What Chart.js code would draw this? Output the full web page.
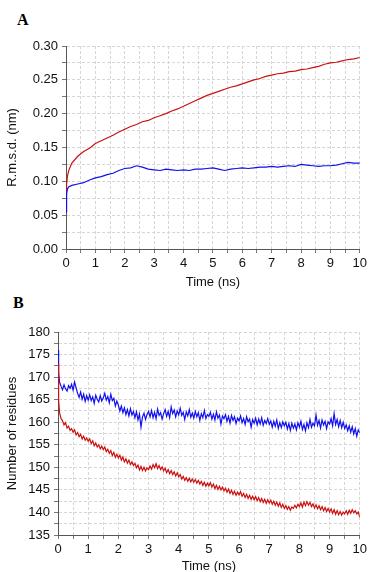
<!DOCTYPE html>
<html>
<head>
<meta charset="utf-8">
<script src="https://cdn.jsdelivr.net/npm/chart.js@4"></script>
<style>
body { margin:0; background:#fff; width:370px; height:572px; position:relative; overflow:hidden; }
.panel { position:absolute; left:0; width:370px; }
#boxA { top:0; height:290px; }
#boxB { top:290px; height:284px; }
.tag { position:absolute; font:bold 16px "Liberation Serif", "Times New Roman", serif; color:#000; }
</style>
</head>
<body>
<div class="tag" style="left:17px;top:11px">A</div>
<div class="tag" style="left:13px;top:294px">B</div>
<div class="panel" id="boxA"><canvas id="chartA"></canvas></div>
<div class="panel" id="boxB"><canvas id="chartB"></canvas></div>
<script>
// Painel A - rmsd (nm) x tempo (ns)
var timeA = [0, 0.02, 0.05, 0.1, 0.2, 0.4, 0.6, 0.8, 1.0, 1.2, 1.4, 1.6, 1.8, 2.0, 2.2, 2.4, 2.6, 2.8, 3.0,
  3.2, 3.4, 3.6, 3.8, 4.0, 4.2, 4.4, 4.6, 4.8, 5.0, 5.2, 5.4, 5.6, 5.8, 6.0, 6.2, 6.4, 6.6, 6.8, 7.0,
  7.2, 7.4, 7.6, 7.8, 8.0, 8.2, 8.4, 8.6, 8.8, 9.0, 9.2, 9.4, 9.6, 9.8, 10.0];
var rmsdRed = [0.080, 0.095, 0.108, 0.117, 0.127, 0.137, 0.144, 0.149, 0.156, 0.160, 0.164, 0.168, 0.173, 0.177,
  0.181, 0.184, 0.188, 0.190, 0.194, 0.197, 0.200, 0.204, 0.207, 0.211, 0.215, 0.219, 0.223, 0.227, 0.230,
  0.233, 0.236, 0.239, 0.241, 0.244, 0.247, 0.250, 0.252, 0.255, 0.257, 0.259, 0.260, 0.262, 0.263, 0.265,
  0.266, 0.268, 0.270, 0.273, 0.275, 0.276, 0.278, 0.280, 0.281, 0.283];
var rmsdBlue = [0.055, 0.082, 0.089, 0.092, 0.094, 0.096, 0.098, 0.102, 0.105, 0.107, 0.110, 0.112, 0.116, 0.119,
  0.120, 0.123, 0.121, 0.118, 0.117, 0.116, 0.118, 0.117, 0.116, 0.117, 0.116, 0.118, 0.118, 0.119, 0.120,
  0.118, 0.116, 0.118, 0.119, 0.120, 0.119, 0.120, 0.121, 0.121, 0.122, 0.121, 0.122, 0.123, 0.122, 0.125,
  0.124, 0.123, 0.122, 0.123, 0.123, 0.124, 0.126, 0.128, 0.127, 0.127];

// Painel B - numero de residuos x tempo (ns), uma linha por 0.5 ns
var timeB = [0, 0.02,
  0.05, 0.10, 0.15, 0.20, 0.25, 0.30, 0.35, 0.40, 0.45, 0.50,
  0.55, 0.60, 0.65, 0.70, 0.75, 0.80, 0.85, 0.90, 0.95, 1.00,
  1.05, 1.10, 1.15, 1.20, 1.25, 1.30, 1.35, 1.40, 1.45, 1.50,
  1.55, 1.60, 1.65, 1.70, 1.75, 1.80, 1.85, 1.90, 1.95, 2.00,
  2.05, 2.10, 2.15, 2.20, 2.25, 2.30, 2.35, 2.40, 2.45, 2.50,
  2.55, 2.60, 2.65, 2.70, 2.75, 2.80, 2.85, 2.90, 2.95, 3.00,
  3.05, 3.10, 3.15, 3.20, 3.25, 3.30, 3.35, 3.40, 3.45, 3.50,
  3.55, 3.60, 3.65, 3.70, 3.75, 3.80, 3.85, 3.90, 3.95, 4.00,
  4.05, 4.10, 4.15, 4.20, 4.25, 4.30, 4.35, 4.40, 4.45, 4.50,
  4.55, 4.60, 4.65, 4.70, 4.75, 4.80, 4.85, 4.90, 4.95, 5.00,
  5.05, 5.10, 5.15, 5.20, 5.25, 5.30, 5.35, 5.40, 5.45, 5.50,
  5.55, 5.60, 5.65, 5.70, 5.75, 5.80, 5.85, 5.90, 5.95, 6.00,
  6.05, 6.10, 6.15, 6.20, 6.25, 6.30, 6.35, 6.40, 6.45, 6.50,
  6.55, 6.60, 6.65, 6.70, 6.75, 6.80, 6.85, 6.90, 6.95, 7.00,
  7.05, 7.10, 7.15, 7.20, 7.25, 7.30, 7.35, 7.40, 7.45, 7.50,
  7.55, 7.60, 7.65, 7.70, 7.75, 7.80, 7.85, 7.90, 7.95, 8.00,
  8.05, 8.10, 8.15, 8.20, 8.25, 8.30, 8.35, 8.40, 8.45, 8.50,
  8.55, 8.60, 8.65, 8.70, 8.75, 8.80, 8.85, 8.90, 8.95, 9.00,
  9.05, 9.10, 9.15, 9.20, 9.25, 9.30, 9.35, 9.40, 9.45, 9.50,
  9.55, 9.60, 9.65, 9.70, 9.75, 9.80, 9.85, 9.90, 9.95, 10.00];
var resBlue = [176.0, 171.0,
  168.9, 168.0, 167.2, 168.3, 167.4, 166.9, 168.1, 167.5, 168.4, 167.1,
  168.9, 167.6, 166.4, 165.5, 166.7, 165.1, 166.2, 164.6, 165.9, 164.9,
  166.1, 164.8, 165.6, 164.2, 166.0, 165.1, 164.5, 165.9, 164.7, 165.4,
  166.4, 164.9, 165.7, 164.3, 166.2, 164.8, 165.3, 163.6, 164.7, 163.8,
  162.5, 163.6, 162.1, 163.2, 161.7, 162.8, 161.4, 163.0, 161.6, 162.4,
  161.0, 162.3, 160.5, 161.8, 158.9, 161.2, 162.0, 160.6, 161.7, 162.4,
  161.2, 162.6, 161.0, 162.2, 160.8, 162.9, 161.5, 162.1, 160.7, 161.9,
  162.8, 161.3, 162.4, 161.0, 163.4, 161.9, 162.7, 161.2, 162.5, 161.6,
  163.1, 161.5, 162.2, 160.6, 162.3, 161.4, 162.8, 161.1, 162.0, 160.9,
  162.4, 161.2, 162.1, 160.4, 161.9, 161.0, 162.6, 160.8, 161.7, 161.3,
  162.2, 160.7, 161.8, 160.5, 162.3, 160.9, 161.6, 159.6, 161.4, 160.8,
  161.7, 160.2, 161.3, 159.8, 161.5, 160.4, 161.2, 159.7, 160.9, 160.3,
  161.4, 159.9, 160.8, 159.5, 161.2, 160.1, 160.7, 158.9, 160.6, 159.8,
  160.9, 159.4, 160.7, 159.6, 161.0, 159.3, 160.4, 159.7, 160.8, 159.5,
  160.3, 158.9, 160.2, 159.1, 160.5, 158.6, 159.9, 158.8, 160.1, 159.2,
  160.0, 158.5, 159.7, 158.2, 159.8, 158.7, 159.6, 158.3, 159.9, 158.9,
  160.2, 158.4, 159.5, 158.1, 159.9, 158.8, 160.6, 158.9, 159.8, 159.2,
  161.6, 159.3, 160.4, 158.7, 160.5, 159.4, 160.2, 158.6, 160.1, 159.6,
  160.8, 159.2, 161.9, 159.5, 160.6, 159.0, 160.4, 158.8, 160.0, 158.6,
  159.4, 158.1, 159.2, 157.8, 159.0, 157.4, 158.6, 156.9, 158.3, 157.7];
var resRed = [173.0, 165.0,
  162.2, 160.8, 160.3, 159.4, 159.9, 158.7, 159.1, 158.2, 158.6, 157.8,
  158.3, 157.2, 157.7, 156.8, 157.3, 156.3, 156.9, 156.0, 156.5, 155.8,
  156.3, 155.3, 155.9, 154.8, 155.4, 154.5, 155.0, 154.1, 154.7, 153.9,
  154.5, 153.5, 154.0, 153.1, 153.7, 152.6, 153.3, 152.2, 152.9, 152.1,
  152.7, 151.6, 152.3, 151.2, 151.9, 150.9, 151.6, 150.6, 151.2, 150.4,
  150.9, 149.9, 150.5, 149.4, 150.2, 149.3, 150.0, 149.2, 149.9, 149.5,
  150.3, 149.6, 150.6, 149.9, 150.8, 149.7, 150.4, 149.5, 150.1, 149.2,
  149.8, 148.8, 149.5, 148.6, 149.3, 148.4, 149.0, 148.1, 148.8, 147.9,
  148.4, 147.4, 148.0, 147.1, 147.7, 146.9, 147.6, 146.8, 147.4, 146.7,
  147.3, 146.5, 147.1, 146.3, 146.9, 146.0, 146.7, 145.8, 146.5, 145.9,
  146.6, 145.6, 146.3, 145.3, 146.0, 145.1, 145.8, 145.0, 145.6, 144.8,
  145.4, 144.5, 145.2, 144.2, 144.9, 144.0, 144.7, 143.8, 144.5, 143.9,
  144.6, 143.6, 144.2, 143.3, 144.0, 143.1, 143.8, 142.9, 143.6, 142.8,
  143.5, 142.6, 143.3, 142.4, 143.1, 142.2, 142.9, 142.0, 142.8, 142.1,
  142.7, 141.8, 142.5, 141.6, 142.3, 141.4, 142.1, 141.1, 141.8, 140.9,
  141.5, 140.7, 141.3, 140.5, 141.2, 140.9, 141.6, 141.0, 141.8, 141.3,
  142.1, 141.2, 142.3, 141.5, 142.4, 141.6, 142.2, 141.3, 141.9, 141.0,
  141.7, 140.8, 141.5, 140.6, 141.3, 140.4, 141.1, 140.2, 140.9, 140.1,
  140.8, 139.8, 140.6, 139.6, 140.4, 139.5, 140.2, 139.4, 140.1, 139.7,
  140.4, 139.6, 140.5, 139.8, 140.6, 139.9, 140.4, 139.7, 140.1, 138.9];

var RED = '#cc1010';
var BLUE = '#1010ee';
var FONT = { family: '"Liberation Sans", Arial, sans-serif', size: 13 };

function pts(xs, ys) {
    return xs.map(function(x, i) { return { x: x, y: ys[i] }; });
}

function serie(xs, ys, cor) {
    return {
        data: pts(xs, ys),
        borderColor: cor,
        borderWidth: 1.2,
        pointRadius: 0,
        tension: 0,
        fill: false
    };
}

function eixoX(altura) {
    return {
        type: 'linear',
        min: 0, max: 10,
        afterFit: function(s) { s.height = altura; },
        ticks: {
            stepSize: 0.5, autoSkip: false, maxRotation: 0, padding: 3,
            color: '#111', font: FONT,
            callback: function(v) { return Math.abs(v - Math.round(v)) < 1e-6 ? Math.round(v) : ''; }
        },
        grid: { color: '#d6d6d6', lineWidth: 1, tickLength: 4, tickColor: '#777' },
        border: { color: '#555', width: 1, dash: [3, 2] },
        title: { display: true, text: 'Time (ns)', color: '#111', font: FONT, padding: { top: 2, bottom: 0 } }
    };
}

function eixoY(min, max, passo, largura, titulo, fmt) {
    return {
        min: min, max: max,
        afterFit: function(s) { s.width = largura; },
        ticks: { stepSize: passo, autoSkip: false, padding: 4, color: '#111', font: FONT, callback: fmt },
        grid: { color: '#d6d6d6', lineWidth: 1, tickLength: 4, tickColor: '#777' },
        border: { color: '#555', width: 1, dash: [3, 2] },
        title: { display: true, text: titulo, color: '#111', font: FONT, padding: { top: 5, bottom: 6 } }
    };
}

var opcoesBase = {
    responsive: true,
    maintainAspectRatio: false,
    animation: false,
    plugins: { legend: { display: false }, tooltip: { enabled: false } }
};

new Chart(document.getElementById('chartA'), {
    type: 'line',
    data: { datasets: [serie(timeA, rmsdBlue, BLUE), serie(timeA, rmsdRed, RED)] },
    options: Object.assign({}, opcoesBase, {
        layout: { padding: { top: 46, right: 10, left: 0, bottom: 0 } },
        scales: {
            x: eixoX(41),
            y: eixoY(0, 0.30, 0.025, 66, 'R.m.s.d. (nm)', function(v) {
                return Math.round(v * 1000) % 50 === 0 ? v.toFixed(2) : '';
            })
        }
    })
});

new Chart(document.getElementById('chartB'), {
    type: 'line',
    data: { datasets: [serie(timeB, resRed, RED), serie(timeB, resBlue, BLUE)] },
    options: Object.assign({}, opcoesBase, {
        layout: { padding: { top: 42, right: 10, left: 0, bottom: 0 } },
        scales: {
            x: eixoX(39),
            y: eixoY(135, 180, 2.5, 58, 'Number of residues', function(v) {
                return v % 5 === 0 ? v : '';
            })
        }
    })
});
</script>
</body>
</html>
